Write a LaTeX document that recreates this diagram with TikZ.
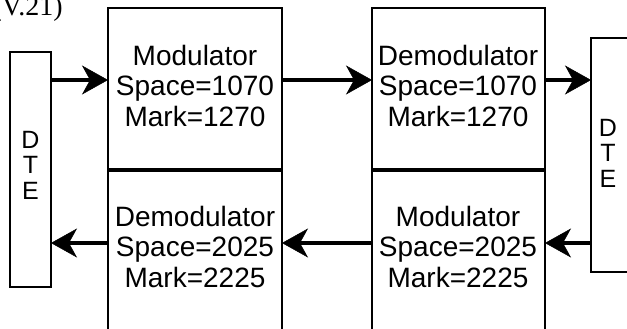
\documentclass[tikz,border=0pt]{standalone}
\usepackage{fontspec}
\setmainfont{Liberation Sans}
\newfontfamily\serifface{Liberation Serif}
\usetikzlibrary{arrows.meta}

\begin{document}
\begin{tikzpicture}[x=1pt, y=-1pt,
  block/.style={draw=black, line width=2.2pt, inner sep=0pt, outer sep=0pt},
  lbl/.style={font=\fontsize{28}{30.5}\selectfont, align=center, inner sep=0pt},
  dtelbl/.style={font=\fontsize{25}{25.5}\selectfont, align=center, inner sep=0pt},
  link/.style={line width=4.5pt,
    -{Stealth[length=26pt, width=29pt, inset=8pt, line width=0.5pt]}}]

  % frame of the page; the outer boxes run past its edges
  \path[use as bounding box, clip] (0,0) rectangle (627,329);

  % heading, partly outside the frame
  \node[anchor=base east, inner sep=0pt,
        font=\serifface\fontsize{28}{30}\selectfont] (title) at (63,16) {(V.21)};

  % terminals
  \node[block, minimum width=41pt, minimum height=235pt] (dteL) at (30.5,169.5) {};
  \node[block, minimum width=49pt, minimum height=234pt] (dteR) at (615.5,155) {};
  \node[dtelbl] (dteLtxt) at (30.5,165) {D\\T\\E};
  \node[dtelbl] (dteRtxt) at (608,153) {D\\T\\E};

  % modem blocks
  \node[block, minimum width=174pt, minimum height=161pt] (modA) at (195,88.5) {};
  \node[block, minimum width=174pt, minimum height=179pt] (demA) at (195,260.5) {};
  \node[block, minimum width=173pt, minimum height=161pt] (demB) at (458.5,88.5) {};
  \node[block, minimum width=173pt, minimum height=179pt] (modB) at (458.5,260.5) {};

  \node[lbl] (modAtxt) at (195,85.8)   {Modulator\\Space=1070\\Mark=1270};
  \node[lbl] (demAtxt) at (195,246.8)  {Demodulator\\Space=2025\\Mark=2225};
  \node[lbl] (demBtxt) at (458,85.8)   {Demodulator\\Space=1070\\Mark=1270};
  \node[lbl] (modBtxt) at (458,246.8)  {Modulator\\Space=2025\\Mark=2225};

  % signal rows
  \coordinate (upper) at (0,80);
  \coordinate (lower) at (0,243);

  \draw[link] (dteL.east |- upper) -- (modA.west |- upper);
  \draw[link] (modA.east |- upper) -- (demB.west |- upper);
  \draw[link] (demB.east |- upper) -- (dteR.west |- upper);

  \draw[link] (dteR.west |- lower) -- (modB.east |- lower);
  \draw[link] (modB.west |- lower) -- (demA.east |- lower);
  \draw[link] (demA.west |- lower) -- (dteL.east |- lower);
\end{tikzpicture}
\end{document}
